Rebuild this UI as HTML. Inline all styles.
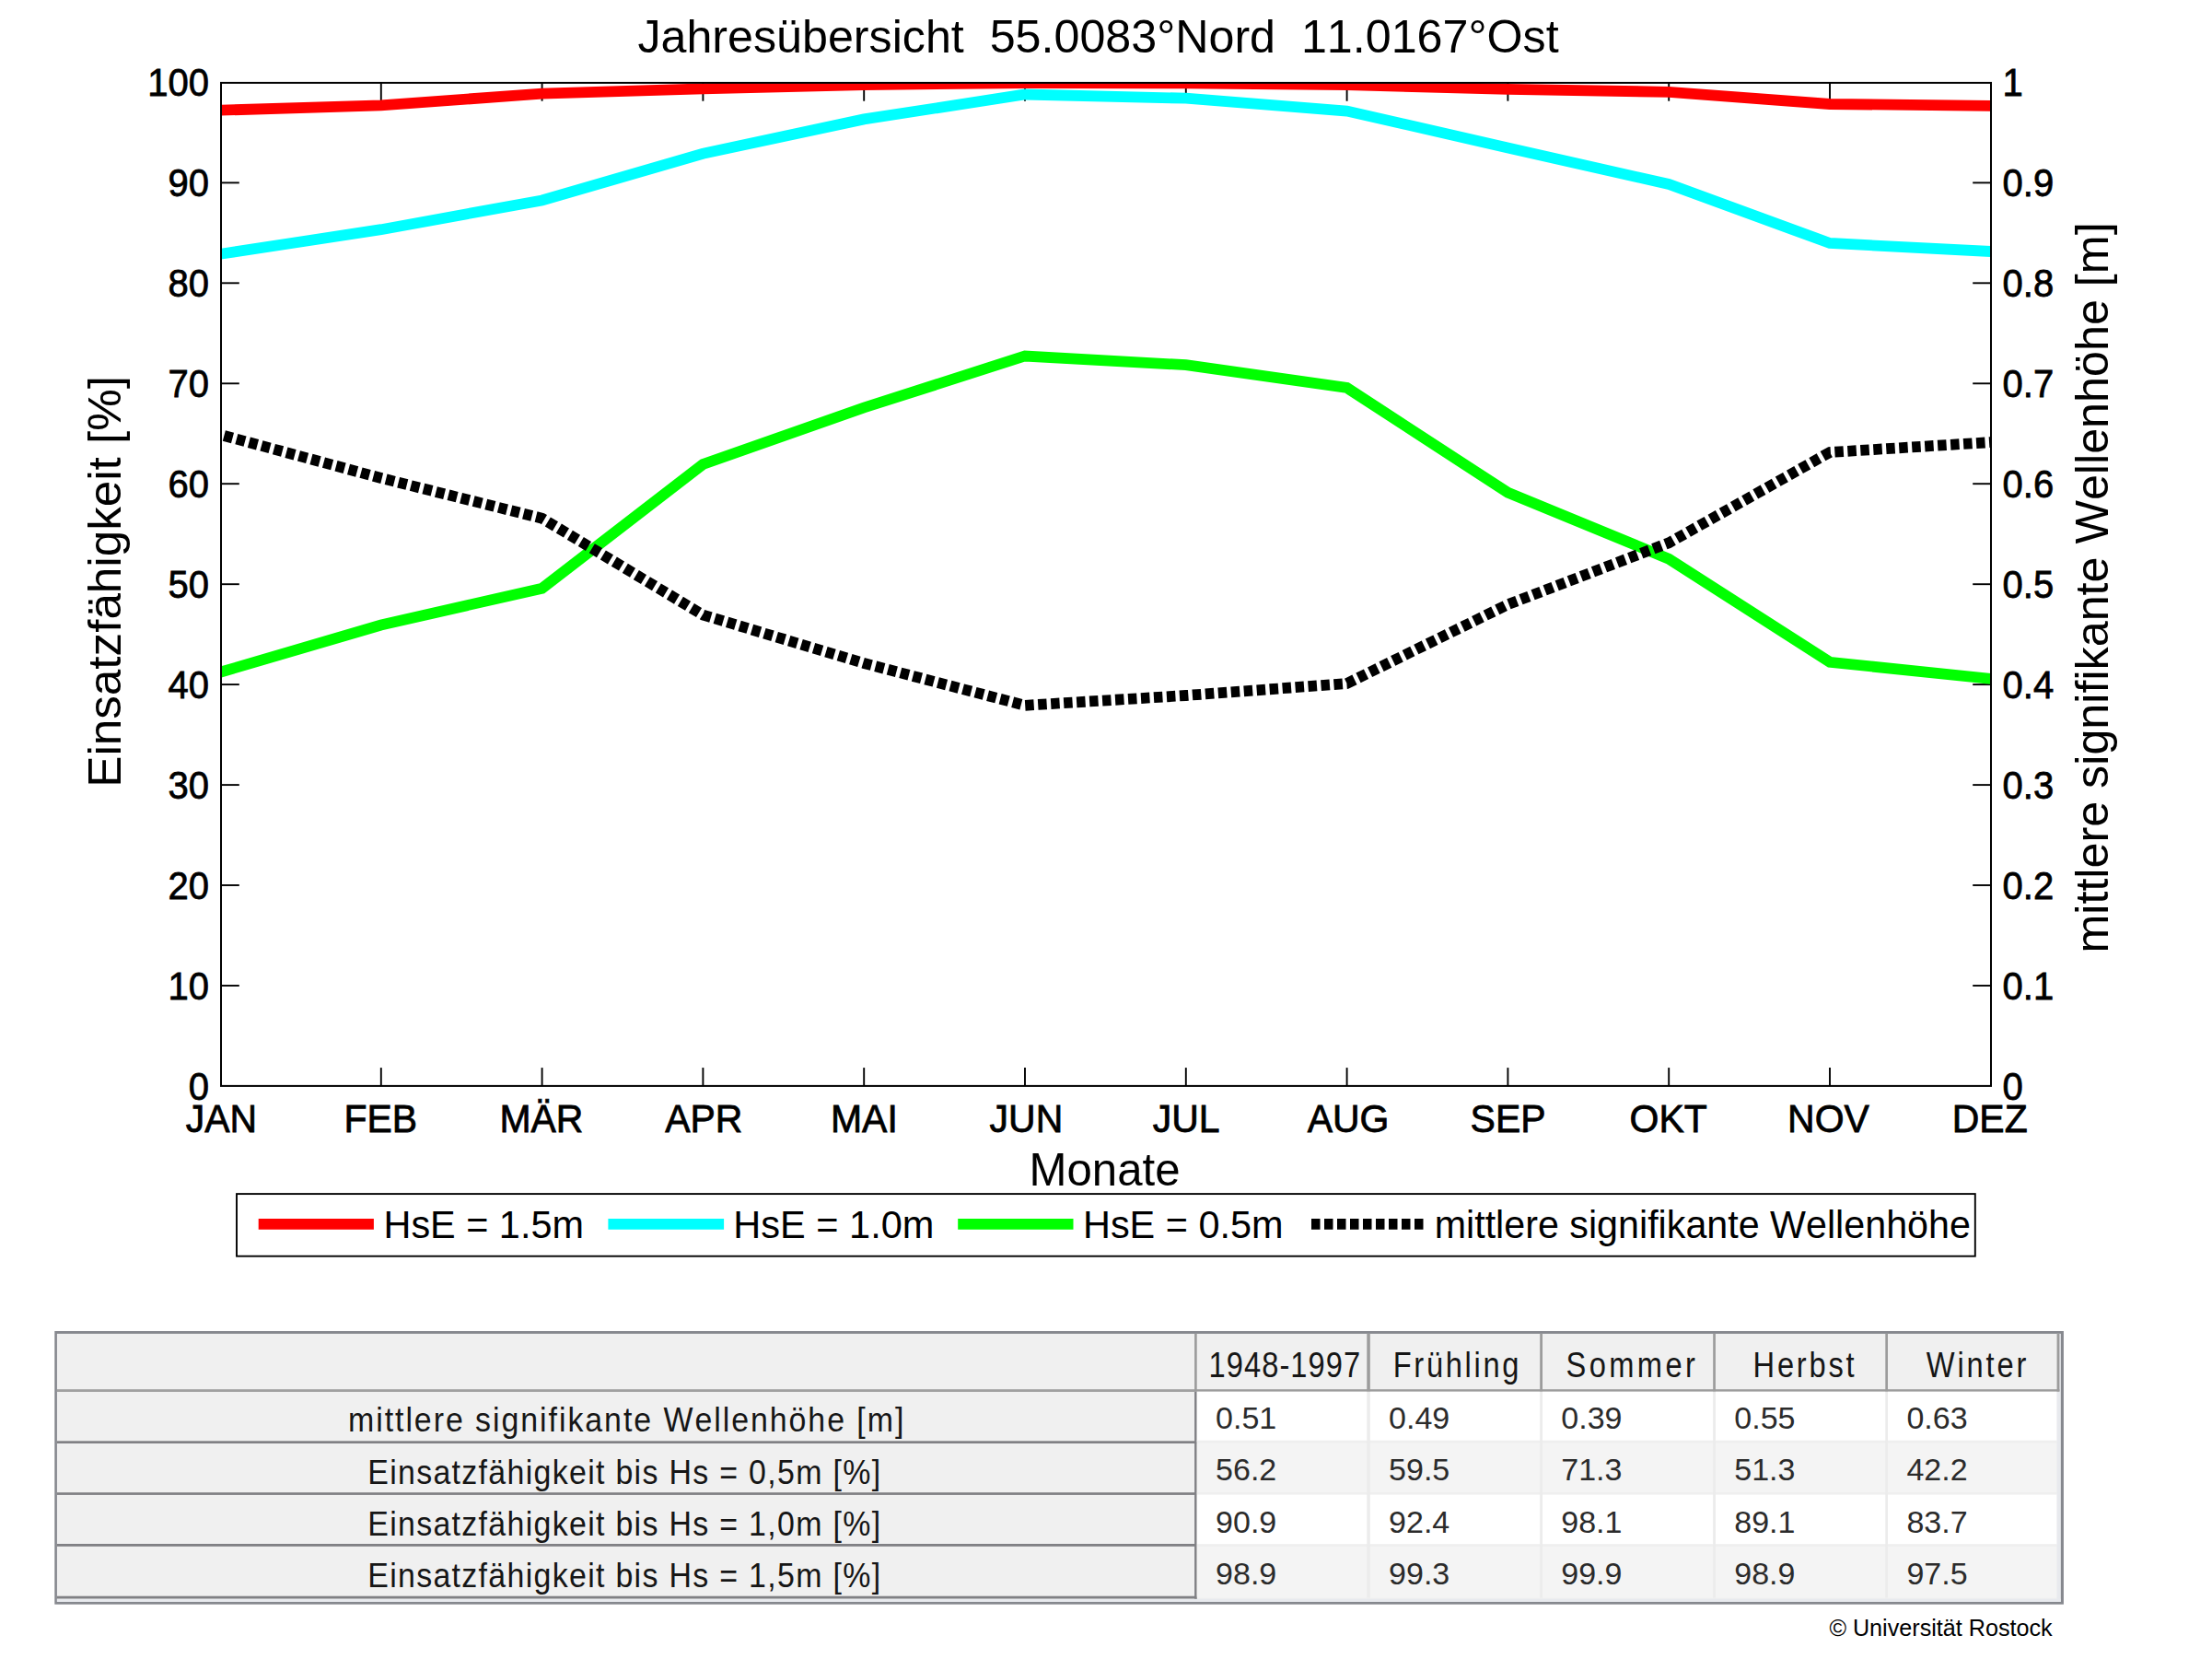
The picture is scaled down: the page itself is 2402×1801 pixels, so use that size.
<!DOCTYPE html>
<html lang="de"><head><meta charset="utf-8"><title>Jahresübersicht 55.0083°Nord 11.0167°Ost</title>
<style>html,body{margin:0;padding:0;background:#fff}body{width:2402px;height:1801px;overflow:hidden}svg{display:block}text{font-family:'Liberation Sans', Arial, Helvetica, sans-serif;font-kerning:none}</style>
</head><body>
<svg width="2402" height="1801" viewBox="0 0 2402 1801">
<rect width="2402" height="1801" fill="#fff"/>
<defs><clipPath id="ax"><rect x="240" y="89.9" width="1922" height="1089"/></clipPath></defs>
<g stroke="#000" stroke-width="1.9" fill="none">
<line x1="413.8" y1="1178.9" x2="413.8" y2="1159.1"/>
<line x1="413.8" y1="89.9" x2="413.8" y2="109.7"/>
<line x1="588.6" y1="1178.9" x2="588.6" y2="1159.1"/>
<line x1="588.6" y1="89.9" x2="588.6" y2="109.7"/>
<line x1="763.4" y1="1178.9" x2="763.4" y2="1159.1"/>
<line x1="763.4" y1="89.9" x2="763.4" y2="109.7"/>
<line x1="938.2" y1="1178.9" x2="938.2" y2="1159.1"/>
<line x1="938.2" y1="89.9" x2="938.2" y2="109.7"/>
<line x1="1113.0" y1="1178.9" x2="1113.0" y2="1159.1"/>
<line x1="1113.0" y1="89.9" x2="1113.0" y2="109.7"/>
<line x1="1287.8" y1="1178.9" x2="1287.8" y2="1159.1"/>
<line x1="1287.8" y1="89.9" x2="1287.8" y2="109.7"/>
<line x1="1462.6" y1="1178.9" x2="1462.6" y2="1159.1"/>
<line x1="1462.6" y1="89.9" x2="1462.6" y2="109.7"/>
<line x1="1637.4" y1="1178.9" x2="1637.4" y2="1159.1"/>
<line x1="1637.4" y1="89.9" x2="1637.4" y2="109.7"/>
<line x1="1812.2" y1="1178.9" x2="1812.2" y2="1159.1"/>
<line x1="1812.2" y1="89.9" x2="1812.2" y2="109.7"/>
<line x1="1987.0" y1="1178.9" x2="1987.0" y2="1159.1"/>
<line x1="1987.0" y1="89.9" x2="1987.0" y2="109.7"/>
<line x1="240" y1="1070.0" x2="259.8" y2="1070.0"/>
<line x1="2162" y1="1070.0" x2="2142.2" y2="1070.0"/>
<line x1="240" y1="961.0" x2="259.8" y2="961.0"/>
<line x1="2162" y1="961.0" x2="2142.2" y2="961.0"/>
<line x1="240" y1="852.1" x2="259.8" y2="852.1"/>
<line x1="2162" y1="852.1" x2="2142.2" y2="852.1"/>
<line x1="240" y1="743.1" x2="259.8" y2="743.1"/>
<line x1="2162" y1="743.1" x2="2142.2" y2="743.1"/>
<line x1="240" y1="634.2" x2="259.8" y2="634.2"/>
<line x1="2162" y1="634.2" x2="2142.2" y2="634.2"/>
<line x1="240" y1="525.2" x2="259.8" y2="525.2"/>
<line x1="2162" y1="525.2" x2="2142.2" y2="525.2"/>
<line x1="240" y1="416.3" x2="259.8" y2="416.3"/>
<line x1="2162" y1="416.3" x2="2142.2" y2="416.3"/>
<line x1="240" y1="307.3" x2="259.8" y2="307.3"/>
<line x1="2162" y1="307.3" x2="2142.2" y2="307.3"/>
<line x1="240" y1="198.4" x2="259.8" y2="198.4"/>
<line x1="2162" y1="198.4" x2="2142.2" y2="198.4"/>
</g>
<g clip-path="url(#ax)" fill="none" stroke-width="11.8" stroke-linejoin="miter">
<polyline stroke="#ff0000" points="239.0,119.7 413.8,114.3 588.6,101.7 763.4,96.3 938.2,92.0 1113.0,90.2 1287.8,90.3 1462.6,92.2 1637.4,96.9 1812.2,99.8 1987.0,113.0 2161.8,114.8"/>
<polyline stroke="#00ffff" points="239.0,275.8 413.8,249.2 588.6,217.5 763.4,166.8 938.2,129.4 1113.0,102.5 1287.8,106.7 1462.6,120.5 1637.4,160.5 1812.2,200.0 1987.0,264.0 2161.8,273.0"/>
<polyline stroke="#00ff00" points="239.0,729.8 413.8,678.5 588.6,638.7 763.4,504.0 938.2,442.5 1113.0,386.5 1287.8,396.2 1462.6,421.0 1637.4,534.8 1812.2,606.7 1987.0,718.8 2161.8,736.9"/>
<polyline stroke="#000000" stroke-dasharray="9.5 4.5" stroke-dashoffset="9.5" points="239.0,471.8 413.8,519.0 588.6,562.7 763.4,667.6 938.2,720.0 1113.0,765.8 1287.8,755.0 1462.6,742.0 1637.4,656.2 1812.2,589.3 1987.0,491.0 2161.8,480.1"/>
</g>
<rect x="240" y="89.9" width="1922" height="1089" fill="none" stroke="#000" stroke-width="2"/>
<text x="204.8" y="1193.5" font-size="42.8" textLength="22.3" lengthAdjust="spacingAndGlyphs" stroke="#000" stroke-width="0.8">0</text>
<text x="2174.6" y="1193.5" font-size="42.8" textLength="22.3" lengthAdjust="spacingAndGlyphs" stroke="#000" stroke-width="0.8">0</text>
<text x="182.6" y="1084.5" font-size="42.8" textLength="44.5" lengthAdjust="spacingAndGlyphs" stroke="#000" stroke-width="0.8">10</text>
<text x="2174.6" y="1084.5" font-size="42.8" textLength="55.6" lengthAdjust="spacingAndGlyphs" stroke="#000" stroke-width="0.8">0.1</text>
<text x="182.6" y="975.6" font-size="42.8" textLength="44.5" lengthAdjust="spacingAndGlyphs" stroke="#000" stroke-width="0.8">20</text>
<text x="2174.6" y="975.6" font-size="42.8" textLength="55.6" lengthAdjust="spacingAndGlyphs" stroke="#000" stroke-width="0.8">0.2</text>
<text x="182.6" y="866.7" font-size="42.8" textLength="44.5" lengthAdjust="spacingAndGlyphs" stroke="#000" stroke-width="0.8">30</text>
<text x="2174.6" y="866.7" font-size="42.8" textLength="55.6" lengthAdjust="spacingAndGlyphs" stroke="#000" stroke-width="0.8">0.3</text>
<text x="182.6" y="757.7" font-size="42.8" textLength="44.5" lengthAdjust="spacingAndGlyphs" stroke="#000" stroke-width="0.8">40</text>
<text x="2174.6" y="757.7" font-size="42.8" textLength="55.6" lengthAdjust="spacingAndGlyphs" stroke="#000" stroke-width="0.8">0.4</text>
<text x="182.6" y="648.8" font-size="42.8" textLength="44.5" lengthAdjust="spacingAndGlyphs" stroke="#000" stroke-width="0.8">50</text>
<text x="2174.6" y="648.8" font-size="42.8" textLength="55.6" lengthAdjust="spacingAndGlyphs" stroke="#000" stroke-width="0.8">0.5</text>
<text x="182.6" y="539.8" font-size="42.8" textLength="44.5" lengthAdjust="spacingAndGlyphs" stroke="#000" stroke-width="0.8">60</text>
<text x="2174.6" y="539.8" font-size="42.8" textLength="55.6" lengthAdjust="spacingAndGlyphs" stroke="#000" stroke-width="0.8">0.6</text>
<text x="182.6" y="430.9" font-size="42.8" textLength="44.5" lengthAdjust="spacingAndGlyphs" stroke="#000" stroke-width="0.8">70</text>
<text x="2174.6" y="430.9" font-size="42.8" textLength="55.6" lengthAdjust="spacingAndGlyphs" stroke="#000" stroke-width="0.8">0.7</text>
<text x="182.6" y="321.9" font-size="42.8" textLength="44.5" lengthAdjust="spacingAndGlyphs" stroke="#000" stroke-width="0.8">80</text>
<text x="2174.6" y="321.9" font-size="42.8" textLength="55.6" lengthAdjust="spacingAndGlyphs" stroke="#000" stroke-width="0.8">0.8</text>
<text x="182.6" y="213.0" font-size="42.8" textLength="44.5" lengthAdjust="spacingAndGlyphs" stroke="#000" stroke-width="0.8">90</text>
<text x="2174.6" y="213.0" font-size="42.8" textLength="55.6" lengthAdjust="spacingAndGlyphs" stroke="#000" stroke-width="0.8">0.9</text>
<text x="160.3" y="104.0" font-size="42.8" textLength="66.8" lengthAdjust="spacingAndGlyphs" stroke="#000" stroke-width="0.8">100</text>
<text x="2174.6" y="104.0" font-size="42.8" textLength="22.3" lengthAdjust="spacingAndGlyphs" stroke="#000" stroke-width="0.8">1</text>
<text x="201.7" y="1229.0" font-size="43" textLength="77.3" lengthAdjust="spacingAndGlyphs" stroke="#000" stroke-width="0.8">JAN</text>
<text x="373.4" y="1229.0" font-size="43" textLength="79.6" lengthAdjust="spacingAndGlyphs" stroke="#000" stroke-width="0.8">FEB</text>
<text x="542.4" y="1229.0" font-size="43" textLength="91.0" lengthAdjust="spacingAndGlyphs" stroke="#000" stroke-width="0.8">MÄR</text>
<text x="722.2" y="1229.0" font-size="43" textLength="84.2" lengthAdjust="spacingAndGlyphs" stroke="#000" stroke-width="0.8">APR</text>
<text x="902.0" y="1229.0" font-size="43" textLength="72.8" lengthAdjust="spacingAndGlyphs" stroke="#000" stroke-width="0.8">MAI</text>
<text x="1074.6" y="1229.0" font-size="43" textLength="79.6" lengthAdjust="spacingAndGlyphs" stroke="#000" stroke-width="0.8">JUN</text>
<text x="1251.8" y="1229.0" font-size="43" textLength="72.8" lengthAdjust="spacingAndGlyphs" stroke="#000" stroke-width="0.8">JUL</text>
<text x="1419.7" y="1229.0" font-size="43" textLength="88.7" lengthAdjust="spacingAndGlyphs" stroke="#000" stroke-width="0.8">AUG</text>
<text x="1596.6" y="1229.0" font-size="43" textLength="81.9" lengthAdjust="spacingAndGlyphs" stroke="#000" stroke-width="0.8">SEP</text>
<text x="1769.6" y="1229.0" font-size="43" textLength="84.2" lengthAdjust="spacingAndGlyphs" stroke="#000" stroke-width="0.8">OKT</text>
<text x="1941.1" y="1229.0" font-size="43" textLength="88.7" lengthAdjust="spacingAndGlyphs" stroke="#000" stroke-width="0.8">NOV</text>
<text x="2119.8" y="1229.0" font-size="43" textLength="81.9" lengthAdjust="spacingAndGlyphs" stroke="#000" stroke-width="0.8">DEZ</text>
<text x="692.4" y="56.7" font-size="49.6" textLength="1000.2" lengthAdjust="spacingAndGlyphs" xml:space="preserve">Jahresübersicht  55.0083°Nord  11.0167°Ost</text>
<text x="1117.6" y="1287.2" font-size="49.6" textLength="163.9" lengthAdjust="spacingAndGlyphs">Monate</text>
<text transform="translate(130.8 854.7) rotate(-90)" font-size="49.6" textLength="446.7" lengthAdjust="spacingAndGlyphs">Einsatzfähigkeit [%]</text>
<text transform="translate(2288.8 1034.6) rotate(-90)" font-size="49.6" textLength="793.2" lengthAdjust="spacingAndGlyphs">mittlere signifikante Wellenhöhe [m]</text>
<rect x="257" y="1296.1" width="1887.8" height="67.6" fill="#fff" stroke="#000" stroke-width="1.9"/>
<g fill="none" stroke-width="11.8">
<line x1="280.7" y1="1328.9" x2="405.9" y2="1328.9" stroke="#ff0000"/>
<line x1="660.4" y1="1328.9" x2="786.1" y2="1328.9" stroke="#00ffff"/>
<line x1="1040.2" y1="1328.9" x2="1165.5" y2="1328.9" stroke="#00ff00"/>
<line x1="1424" y1="1328.9" x2="1545.5" y2="1328.9" stroke="#000" stroke-dasharray="9.5 4.5"/>
</g>
<text x="416.5" y="1344.4" font-size="41.6" textLength="217.4" lengthAdjust="spacingAndGlyphs">HsE = 1.5m</text>
<text x="796.3" y="1344.4" font-size="41.6" textLength="218.1" lengthAdjust="spacingAndGlyphs">HsE = 1.0m</text>
<text x="1176.0" y="1344.4" font-size="41.6" textLength="217.5" lengthAdjust="spacingAndGlyphs">HsE = 0.5m</text>
<text x="1557.7" y="1344.4" font-size="41.6" textLength="582.2" lengthAdjust="spacingAndGlyphs">mittlere signifikante Wellenhöhe</text>
<rect x="59.3" y="1445.0" width="2181.6" height="296.7" fill="#86888e"/>
<rect x="61.9" y="1447.9" width="2175.7" height="291.0" fill="#f0f0f0"/>
<rect x="61.9" y="1508.2" width="1235.2" height="2.8" fill="#a0a0a0"/>
<rect x="61.9" y="1564.3" width="1237.8" height="2.7" fill="#808084"/>
<rect x="61.9" y="1620.2" width="1237.8" height="2.7" fill="#808084"/>
<rect x="61.9" y="1676.0" width="1237.8" height="2.8" fill="#808084"/>
<rect x="61.9" y="1732.7" width="1237.8" height="3.0" fill="#808084"/>
<rect x="61.9" y="1735.7" width="2175.7" height="3.2" fill="#e8eaee"/>
<rect x="1297.1" y="1447.9" width="2.6" height="62.7" fill="#9c9c9c"/>
<rect x="1297.1" y="1510.6" width="2.6" height="225.1" fill="#808084"/>
<rect x="1299.7" y="1510.6" width="933.9" height="54.4" fill="#ffffff"/>
<rect x="1299.7" y="1565.0" width="933.9" height="56.3" fill="#f4f4f4"/>
<rect x="1299.7" y="1621.3" width="933.9" height="56.2" fill="#ffffff"/>
<rect x="1299.7" y="1677.5" width="933.9" height="57.0" fill="#f4f4f4"/>
<rect x="1299.7" y="1563.7" width="933.9" height="2.6" fill="#efefef"/>
<rect x="1299.7" y="1620.0" width="933.9" height="2.6" fill="#efefef"/>
<rect x="1299.7" y="1676.2" width="933.9" height="2.6" fill="#efefef"/>
<rect x="2233.6" y="1447.9" width="4.0" height="291.0" fill="#e8eaee"/>
<rect x="1484.3" y="1447.9" width="3.5" height="62.7" fill="#9c9c9c"/>
<rect x="1484.3" y="1510.6" width="3.5" height="223.9" fill="#ececec"/>
<rect x="1672.2" y="1447.9" width="2.8" height="62.7" fill="#9c9c9c"/>
<rect x="1672.2" y="1510.6" width="2.8" height="223.9" fill="#ececec"/>
<rect x="1860.2" y="1447.9" width="2.7" height="62.7" fill="#9c9c9c"/>
<rect x="1860.2" y="1510.6" width="2.7" height="223.9" fill="#ececec"/>
<rect x="2047.3" y="1447.9" width="2.7" height="62.7" fill="#9c9c9c"/>
<rect x="2047.3" y="1510.6" width="2.7" height="223.9" fill="#ececec"/>
<rect x="2233.6" y="1447.9" width="2.8" height="62.7" fill="#9c9c9c"/>
<rect x="1297.1" y="1508.2" width="939.3" height="2.4" fill="#9c9c9c"/>
<text fill="#161616" transform="translate(378.0 1553.5) scale(0.93 1)" font-size="36.5" letter-spacing="2.08">mittlere signifikante Wellenhöhe [m]</text>
<text fill="#161616" transform="translate(399.2 1610.8) scale(0.93 1)" font-size="36.5" letter-spacing="1.40">Einsatzfähigkeit bis Hs = 0,5m [%]</text>
<text fill="#161616" transform="translate(399.2 1667.0) scale(0.93 1)" font-size="36.5" letter-spacing="1.40">Einsatzfähigkeit bis Hs = 1,0m [%]</text>
<text fill="#161616" transform="translate(399.2 1722.8) scale(0.93 1)" font-size="36.5" letter-spacing="1.40">Einsatzfähigkeit bis Hs = 1,5m [%]</text>
<text fill="#161616" transform="translate(1312.6 1494.5) scale(0.86 1)" font-size="38" letter-spacing="1.21">1948-1997</text>
<text fill="#161616" transform="translate(1512.7 1494.5) scale(0.86 1)" font-size="38" letter-spacing="3.11">Frühling</text>
<text fill="#161616" transform="translate(1700.5 1494.5) scale(0.86 1)" font-size="38" letter-spacing="3.94">Sommer</text>
<text fill="#161616" transform="translate(1903.6 1494.5) scale(0.86 1)" font-size="38" letter-spacing="3.20">Herbst</text>
<text fill="#161616" transform="translate(2091.7 1494.5) scale(0.86 1)" font-size="38" letter-spacing="3.32">Winter</text>
<text fill="#2b2b2b" x="1320.1" y="1550.5" font-size="34">0.51</text>
<text fill="#2b2b2b" x="1508.1" y="1550.5" font-size="34">0.49</text>
<text fill="#2b2b2b" x="1695.3" y="1550.5" font-size="34">0.39</text>
<text fill="#2b2b2b" x="1883.3" y="1550.5" font-size="34">0.55</text>
<text fill="#2b2b2b" x="2070.4" y="1550.5" font-size="34">0.63</text>
<text fill="#2b2b2b" x="1320.1" y="1607.2" font-size="34">56.2</text>
<text fill="#2b2b2b" x="1508.1" y="1607.2" font-size="34">59.5</text>
<text fill="#2b2b2b" x="1695.3" y="1607.2" font-size="34">71.3</text>
<text fill="#2b2b2b" x="1883.3" y="1607.2" font-size="34">51.3</text>
<text fill="#2b2b2b" x="2070.4" y="1607.2" font-size="34">42.2</text>
<text fill="#2b2b2b" x="1320.1" y="1663.5" font-size="34">90.9</text>
<text fill="#2b2b2b" x="1508.1" y="1663.5" font-size="34">92.4</text>
<text fill="#2b2b2b" x="1695.3" y="1663.5" font-size="34">98.1</text>
<text fill="#2b2b2b" x="1883.3" y="1663.5" font-size="34">89.1</text>
<text fill="#2b2b2b" x="2070.4" y="1663.5" font-size="34">83.7</text>
<text fill="#2b2b2b" x="1320.1" y="1719.8" font-size="34">98.9</text>
<text fill="#2b2b2b" x="1508.1" y="1719.8" font-size="34">99.3</text>
<text fill="#2b2b2b" x="1695.3" y="1719.8" font-size="34">99.9</text>
<text fill="#2b2b2b" x="1883.3" y="1719.8" font-size="34">98.9</text>
<text fill="#2b2b2b" x="2070.4" y="1719.8" font-size="34">97.5</text>
<text x="1986.4" y="1775.6" font-size="25" textLength="242.3" lengthAdjust="spacingAndGlyphs">© Universität Rostock</text>
</svg></body></html>
